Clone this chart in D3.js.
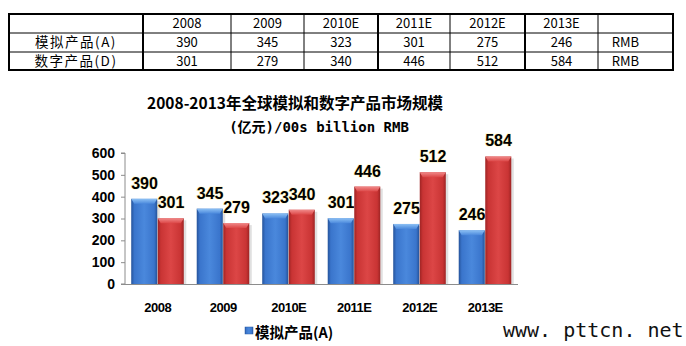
<!DOCTYPE html>
<html><head><meta charset="utf-8">
<script src="https://cdn.jsdelivr.net/npm/d3@7"></script>
<style>
html,body{margin:0;padding:0;background:#fff;}
svg{display:block;}
</style></head>
<body>
<svg id="c" width="686" height="346"></svg>
<script>
const categories = ["2008","2009","2010E","2011E","2012E","2013E"];
const analogValues = [390,345,323,301,275,246];
const digitalValues = [301,279,340,446,512,584];
const seriesNames = ["模拟产品(A)","数字产品(D)"];
const unitLabels = ["RMB","RMB"];
const yTicks = [0,100,200,300,400,500,600];
const titleLines = ["2008-2013年全球模拟和数字产品市场规模","(亿元)/00s billion RMB"];
const watermark = "www. pttcn. net";

const svg = d3.select("#c");
const defs = svg.append("defs");

function barGrad(id, edge, mid, light){
  const g = defs.append("linearGradient").attr("id",id).attr("x1","0").attr("x2","1").attr("y1","0").attr("y2","0");
  g.append("stop").attr("offset","0").attr("stop-color",edge);
  g.append("stop").attr("offset","0.12").attr("stop-color",mid);
  g.append("stop").attr("offset","0.5").attr("stop-color",light);
  g.append("stop").attr("offset","0.88").attr("stop-color",mid);
  g.append("stop").attr("offset","1").attr("stop-color",edge);
}
barGrad("gBlue","#25539a","#3a75cc","#4a88dc");
barGrad("gRed","#9e2424","#c93434","#dc4646");
const tg = defs.append("linearGradient").attr("id","gTopB").attr("x1","0").attr("x2","0").attr("y1","0").attr("y2","1");
tg.append("stop").attr("offset","0").attr("stop-color","#8cc0f4");
tg.append("stop").attr("offset","1").attr("stop-color","#4a88dc");
const tr = defs.append("linearGradient").attr("id","gTopR").attr("x1","0").attr("x2","0").attr("y1","0").attr("y2","1");
tr.append("stop").attr("offset","0").attr("stop-color","#f08a8a");
tr.append("stop").attr("offset","1").attr("stop-color","#dc4646");

// ---------- Table ----------
const colX = [9,143,231,304,378,450,525,598,673];
const rowY = [14,33,52,70];
const tableFont = "'Noto Sans CJK SC','Noto Sans',sans-serif";
const rows = [
  ["", ...categories, ""],
  [seriesNames[0], ...analogValues.map(String), unitLabels[0]],
  [seriesNames[1], ...digitalValues.map(String), unitLabels[1]]
];
const tbl = svg.append("g");
rows.forEach((r,ri)=>{
  r.forEach((t,ci)=>{
    tbl.append("text")
      .attr("x",(colX[ci]+colX[ci+1])/2 - (ci===7?10:0))
      .attr("y",(rowY[ri]+rowY[ri+1])/2 + 4.5)
      .attr("text-anchor","middle")
      .attr("font-family",tableFont)
      .attr("font-size", ci===0?13.5:13)
      .attr("letter-spacing", ci===0?1.5:0)
      .attr("fill","#000")
      .text(t);
  });
});
// lines
const thickCols = new Set([0,1,4,6,8]);
colX.forEach((x,i)=>{
  tbl.append("line").attr("x1",x).attr("x2",x).attr("y1",rowY[0]).attr("y2",rowY[3])
    .attr("stroke","#000").attr("stroke-width",thickCols.has(i)?2:1);
});
rowY.forEach((y,i)=>{
  tbl.append("line").attr("x1",colX[0]-1).attr("x2",colX[8]+1).attr("y1",y).attr("y2",y)
    .attr("stroke","#000").attr("stroke-width",(i===0||i===3)?2:1);
});

// ---------- Chart ----------
const boldFont = "'Noto Sans CJK SC','Liberation Sans',sans-serif";
svg.append("text").attr("x",295).attr("y",109).attr("text-anchor","middle")
  .attr("font-family",boldFont).attr("font-weight","bold").attr("font-size",15.5).text(titleLines[0]);
svg.append("text").attr("x",319).attr("y",132).attr("text-anchor","middle")
  .attr("font-family","'DejaVu Sans Mono','Noto Sans CJK SC',monospace").attr("font-weight","bold").attr("font-size",14).text(titleLines[1]);

const x0 = d3.scaleBand().domain(categories).range([125,518]).paddingInner(0.19).paddingOuter(0.095);
const x1 = d3.scaleBand().domain([0,1]).range([0,x0.bandwidth()]).padding(0);
const y = d3.scaleLinear().domain([0,600]).range([284,153]);

// y axis
const yAxis = svg.append("g").attr("transform","translate(125,0)")
  .call(d3.axisLeft(y).tickValues(yTicks).tickSize(4).tickPadding(6).tickFormat(d3.format("d")));
yAxis.select(".domain").attr("stroke","#8c8c8c").attr("d","M-4,"+y(600)+"H0V"+y(0)+"H-4");
yAxis.selectAll(".tick line").attr("stroke","#8c8c8c");
yAxis.selectAll(".tick text").attr("font-family","'Liberation Sans',Arial,sans-serif")
  .attr("font-weight","bold").attr("font-size",14).attr("fill","#000");

// bars
const data = categories.map((c,i)=>({c, vals:[analogValues[i],digitalValues[i]]}));
const groups = svg.append("g").selectAll("g").data(data).join("g")
  .attr("transform",d=>`translate(${x0(d.c)},0)`);

const bars = groups.selectAll("g.bar").data(d=>d.vals.map((v,k)=>({v,k}))).join("g").attr("class","bar");
bars.append("rect")
  .attr("x",d=>x1(d.k)+2).attr("y",d=>y(d.v)+2)
  .attr("width",x1.bandwidth()).attr("height",d=>y(0)-y(d.v)-2)
  .attr("fill","#000").attr("opacity",0.12);
bars.append("rect")
  .attr("x",d=>x1(d.k)).attr("y",d=>y(d.v))
  .attr("width",x1.bandwidth()-0.5).attr("height",d=>y(0)-y(d.v))
  .attr("fill",d=>d.k===0?"url(#gBlue)":"url(#gRed)");
bars.append("path")
  .attr("d",d=>{
    const xa=x1(d.k), w=x1.bandwidth()-0.5, yt=y(d.v);
    return `M${xa},${yt}H${xa+w}L${xa+w-3},${yt+5}H${xa+3}Z`;
  })
  .attr("fill",d=>d.k===0?"url(#gTopB)":"url(#gTopR)");
bars.append("text")
  .attr("x",d=>x1(d.k)+x1.bandwidth()/2)
  .attr("y",d=>y(d.v)-10)
  .attr("text-anchor","middle")
  .attr("font-family","'Liberation Sans',Arial,sans-serif")
  .attr("font-weight","bold").attr("font-size",16)
  .attr("fill","#000")
  .attr("stroke","#fff6c0").attr("stroke-width",1.2).attr("paint-order","stroke")
  .text(d=>d.v);

// x axis line
svg.append("line").attr("x1",125).attr("x2",518).attr("y1",y(0)+0.5).attr("y2",y(0)+0.5)
  .attr("stroke","#8c8c8c").attr("stroke-width",1.2);
svg.append("g").selectAll("text").data(categories).join("text")
  .attr("x",d=>x0(d)+x0.bandwidth()/2).attr("y",312)
  .attr("text-anchor","middle")
  .attr("font-family","'Liberation Sans Narrow','Liberation Sans',Arial,sans-serif")
  .attr("font-weight","bold").attr("font-size",13)
  .attr("letter-spacing","-0.5")
  .text(d=>d);

// legend
svg.append("rect").attr("x",245).attr("y",327).attr("width",8).attr("height",7).attr("fill","url(#gBlue)")
  .attr("stroke","#2a5ea8").attr("stroke-width",0.5);
svg.append("text").attr("x",255).attr("y",337.5)
  .attr("font-family",boldFont).attr("font-weight","bold").attr("font-size",14.5)
  .text(seriesNames[0]);

// watermark
svg.append("text").attr("x",503).attr("y",337)
  .attr("font-family","'DejaVu Sans Mono','Liberation Mono',monospace").attr("font-size",20)
  .attr("fill","#111").text(watermark);
</script>
</body></html>
